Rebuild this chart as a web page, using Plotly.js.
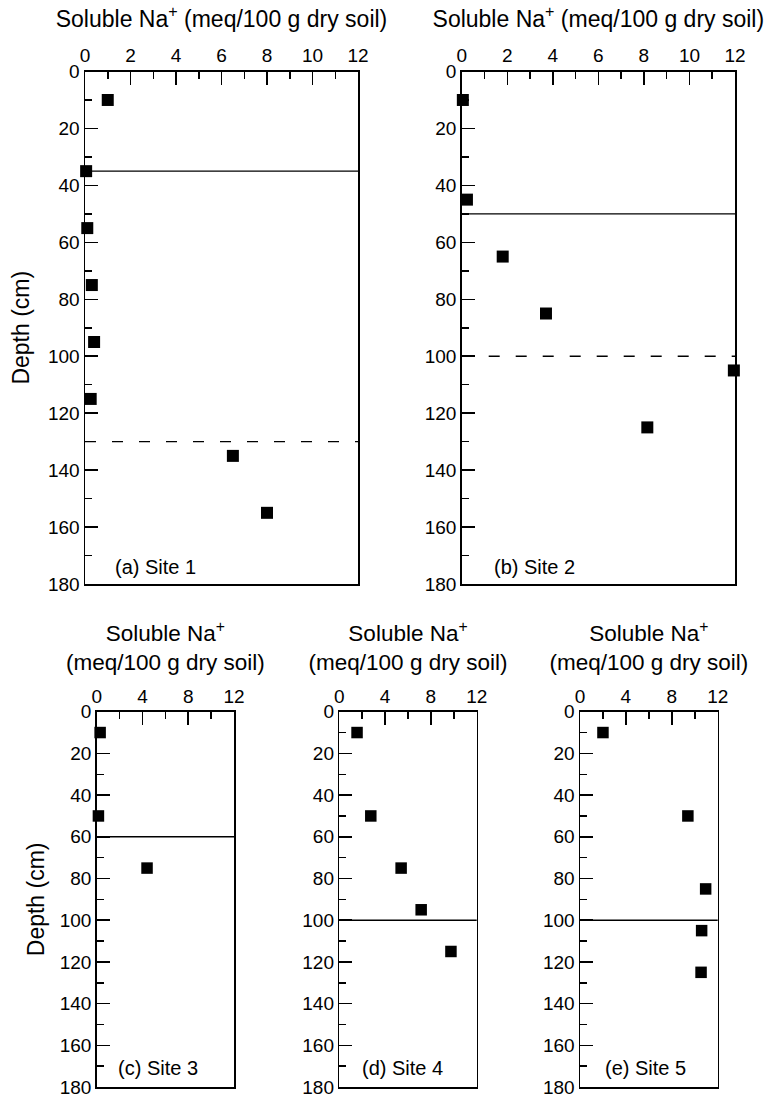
<!DOCTYPE html>
<html>
<head>
<meta charset="utf-8">
<script src="https://cdn.plot.ly/plotly-3.0.1.min.js"></script>
<style>
html,body{margin:0;padding:0;background:#fff;}
#chart{width:767px;height:1097px;}
</style>
</head>
<body>
<div id="chart"></div>
<script>
// ---- data ----
const siteLabels = ['(a) Site 1', '(b) Site 2', '(c) Site 3', '(d) Site 4', '(e) Site 5'];

const site1Na    = [1.0, 0.05, 0.1, 0.3, 0.4, 0.25, 6.5, 8.0];
const site1Depth = [10, 35, 55, 75, 95, 115, 135, 155];

const site2Na    = [0.05, 0.23, 1.8, 3.7, 11.95, 8.15];
const site2Depth = [10, 45, 65, 85, 105, 125];

const site3Na    = [0.3, 0.15, 4.4];
const site3Depth = [10, 50, 75];

const site4Na    = [1.55, 2.75, 5.4, 7.15, 9.75];
const site4Depth = [10, 50, 75, 95, 115];

const site5Na    = [2.0, 9.4, 10.95, 10.6, 10.55];
const site5Depth = [10, 50, 85, 105, 125];

// horizon boundaries (depth, cm)
const solidBoundary  = [35, 50, 60, 100, 100];
const dashedBoundary = [130, 100, null, null, null];

const naRange    = [0, 12];
const depthRange = [180, 0];

// ---- build figure ----
const FONT = 'Liberation Sans, Arial, Helvetica, sans-serif';
const naVals = [site1Na, site2Na, site3Na, site4Na, site5Na];
const depthVals = [site1Depth, site2Depth, site3Depth, site4Depth, site5Depth];

const W = 767, H = 1097;
function px2x(a, b) { return [a / W, b / W]; }
function px2y(top, bottom) { return [1 - bottom / H, 1 - top / H]; }

const panels = [
  {xd: px2x(85, 358),    yd: px2y(71.5, 584), big: true,  ytitle: true},
  {xd: px2x(461.7, 735), yd: px2y(71.5, 584), big: true,  ytitle: false},
  {xd: px2x(96.7, 234),  yd: px2y(711.7, 1087), big: false, ytitle: true},
  {xd: px2x(339.3, 476.7), yd: px2y(711.7, 1087), big: false, ytitle: false},
  {xd: px2x(580, 717.7), yd: px2y(711.7, 1087), big: false, ytitle: false}
];
const labelX = [0.103, 0.11, 0.14, 0.15, 0.165];

const traces = [];
const layout = {
  width: W, height: H,
  margin: {l: 0, r: 0, t: 0, b: 0},
  paper_bgcolor: '#fff', plot_bgcolor: '#fff',
  showlegend: false,
  font: {family: FONT, color: '#000', size: 19},
  shapes: [], annotations: []
};

panels.forEach((p, i) => {
  const n = i === 0 ? '' : String(i + 1);
  const xa = 'x' + n, ya = 'y' + n;
  traces.push({
    type: 'scatter', mode: 'markers',
    x: naVals[i], y: depthVals[i],
    xaxis: xa, yaxis: ya,
    cliponaxis: false,
    marker: {symbol: 'square', size: p.big ? 12 : 11.5, color: '#000', line: {width: 0}},
    hoverinfo: 'x+y'
  });
  const xtitle = p.big ? 'Soluble Na<sup>+</sup> (meq/100 g dry soil)'
                       : 'Soluble Na<sup>+</sup><br>(meq/100 g dry soil)';
  layout['xaxis' + n] = {
    domain: p.xd, anchor: ya, side: 'top',
    range: naRange, tick0: 0, dtick: p.big ? 2 : 4,
    ticks: 'inside', ticklen: 13, tickwidth: 1.5, tickcolor: '#000',
    minor: {ticks: 'inside', dtick: p.big ? 1 : 2, ticklen: 7, tickwidth: 1.5, tickcolor: '#000'},
    showline: true, linewidth: 1.5, linecolor: '#000', mirror: true,
    showgrid: false, zeroline: false,
    ticklabeloverflow: 'allow',
    tickfont: {size: 19, family: FONT, color: '#000'},
    title: {text: xtitle, font: {size: p.big ? 23 : 22.5, family: FONT, color: '#000'}, standoff: p.big ? 11 : 8},
    fixedrange: true
  };
  const yax = {
    domain: p.yd, anchor: xa,
    range: depthRange, tick0: 0, dtick: 20,
    ticks: 'inside', ticklen: 13, tickwidth: 1.5, tickcolor: '#000',
    minor: {ticks: 'inside', dtick: 10, ticklen: 7, tickwidth: 1.5, tickcolor: '#000'},
    showline: true, linewidth: 1.5, linecolor: '#000', mirror: true,
    showgrid: false, zeroline: false,
    ticklabeloverflow: 'allow',
    tickfont: {size: 19, family: FONT, color: '#000'},
    fixedrange: true
  };
  if (p.ytitle) {
    yax.title = {text: 'Depth (cm)', font: {size: 23, family: FONT, color: '#000'}, standoff: p.big ? 12 : 8};
  }
  layout['yaxis' + n] = yax;
  layout.shapes.push({
    type: 'line', xref: xa + ' domain', yref: ya,
    x0: 0, x1: 1, y0: solidBoundary[i], y1: solidBoundary[i],
    line: {color: '#000', width: 1.4}
  });
  if (dashedBoundary[i] !== null) {
    layout.shapes.push({
      type: 'line', xref: xa + ' domain', yref: ya,
      x0: 0, x1: 1, y0: dashedBoundary[i], y1: dashedBoundary[i],
      line: {color: '#000', width: 1.4, dash: '11px,16px'}
    });
  }
  layout.annotations.push({
    xref: xa + ' domain', yref: ya + ' domain',
    x: labelX[i],
    y: p.big ? 0.033 : 0.05,
    xanchor: 'left', yanchor: 'middle', showarrow: false,
    text: siteLabels[i], font: {size: 20, family: FONT, color: '#000'}
  });
});

Plotly.newPlot('chart', traces, layout, {displayModeBar: false, staticPlot: true});
</script>
</body>
</html>
